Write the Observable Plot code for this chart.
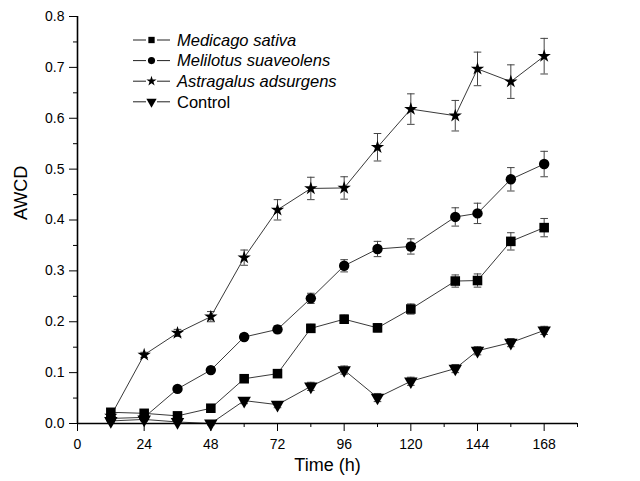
<!DOCTYPE html>
<html><head><meta charset="utf-8">
<script src="https://cdn.jsdelivr.net/npm/d3@7"></script>
<script src="https://cdn.jsdelivr.net/npm/@observablehq/plot@0.6"></script>
<style>body{margin:0;background:#fff}</style>
</head><body><div id="chart"></div>
<script>
const hours = [12,24,36,48,60,72,84,96,108,120,136,144,156,168];
const seriesNames = ["Medicago sativa","Melilotus suaveolens","Astragalus adsurgens","Control"];
const medicago    = [0.022,0.020,0.015,0.030,0.088,0.098,0.187,0.205,0.188,0.225,0.280,0.281,0.358,0.385];
const medicagoErr = [0.003,0.003,0.003,0.004,0.005,0.005,0.008,0.008,0.008,0.010,0.012,0.013,0.017,0.018];
const melilotus    = [0.010,0.012,0.068,0.105,0.170,0.185,0.246,0.310,0.343,0.348,0.406,0.413,0.480,0.510];
const melilotusErr = [0.002,0.002,0.003,0.004,0.006,0.007,0.010,0.012,0.015,0.015,0.018,0.020,0.023,0.025];
const astragalus    = [0.015,0.135,0.178,0.210,0.326,0.420,0.462,0.463,0.543,0.618,0.605,0.697,0.672,0.722];
const astragalusErr = [0.003,0.005,0.007,0.010,0.015,0.020,0.022,0.022,0.027,0.030,0.030,0.033,0.033,0.035];
const control    = [0.005,0.008,0.003,0.000,0.045,0.037,0.073,0.105,0.051,0.083,0.108,0.143,0.159,0.183];
const controlErr = [0.003,0.003,0.003,0.003,0.006,0.006,0.008,0.008,0.008,0.008,0.008,0.008,0.008,0.008];
const xTicks = [0,24,48,72,96,120,144,168];
const xMinor = [12,36,60,84,108,132,156,180];
const yTicks = [0,0.1,0.2,0.3,0.4,0.5,0.6,0.7,0.8];
const yMinor = [0.05,0.15,0.25,0.35,0.45,0.55,0.65,0.75];

const triDown = {draw(ctx, size){
  const a = Math.sqrt(4*size/Math.sqrt(3)), h = a*Math.sqrt(3)/2;
  ctx.moveTo(0, 2*h/3); ctx.lineTo(-a/2, -h/3); ctx.lineTo(a/2, -h/3); ctx.closePath();
}};
const cap = {draw(ctx, size){ const w = Math.sqrt(size/Math.PI); ctx.moveTo(-w,0); ctx.lineTo(w,0); }};
const symbols = {"Medicago sativa": "square", "Melilotus suaveolens": "circle", "Astragalus adsurgens": "star", "Control": triDown};
const radii = {"Medicago sativa": 5.4, "Melilotus suaveolens": 5.2, "Astragalus adsurgens": 4.2, "Control": 5.0};
const legendSize = {"Medicago sativa": 40, "Melilotus suaveolens": 40, "Astragalus adsurgens": 32, "Control": 46};

const vals = [medicago, melilotus, astragalus, control];
const errs = [medicagoErr, melilotusErr, astragalusErr, controlErr];
const data = [];
seriesNames.forEach((s, k) => hours.forEach((h, i) => data.push({s, h, v: vals[k][i], e: errs[k][i]})));

const marks = [
  Plot.ruleX(data, {x: "h", y1: d => d.v - d.e, y2: d => d.v + d.e, stroke: "#444", strokeWidth: 1}),
  Plot.dot(data, {x: "h", y: d => d.v + d.e, symbol: () => cap, r: 3.8, stroke: "#444", strokeWidth: 1}),
  Plot.dot(data, {x: "h", y: d => d.v - d.e, symbol: () => cap, r: 3.8, stroke: "#444", strokeWidth: 1}),
  Plot.line(data, {x: "h", y: "v", z: "s", stroke: "#222", strokeWidth: 0.9})
];
seriesNames.forEach(s => {
  marks.push(Plot.dot(data.filter(d => d.s === s), {x: "h", y: "v", symbol: () => symbols[s], r: radii[s], fill: "black", stroke: "none"}));
});
marks.push(
  Plot.axisX({ticks: xTicks, tickSize: 8, tickPadding: 8, fontSize: 14, label: null, tickFormat: d => d}),
  Plot.axisX({ticks: xMinor, tickSize: 4, text: null, label: null}),
  Plot.axisY({ticks: yTicks, tickSize: 8, tickPadding: 5, fontSize: 14, label: null, tickFormat: d3.format(".1f")}),
  Plot.axisY({ticks: yMinor, tickSize: 4, text: null, label: null}),
  Plot.ruleY([0], {strokeWidth: 1.6}),
  Plot.ruleX([0], {strokeWidth: 1.6}),
  Plot.text(["Time (h)"], {frameAnchor: "bottom", dy: 47, fontSize: 18}),
  Plot.text(["AWCD"], {frameAnchor: "left", dx: -56, rotate: -90, fontSize: 18})
);

const chart = Plot.plot({
  width: 640, height: 481,
  marginLeft: 77, marginRight: 63, marginTop: 16, marginBottom: 58,
  x: {domain: [0, 180]},
  y: {domain: [0, 0.8]},
  style: {fontFamily: "'Liberation Sans', Arial, sans-serif", background: "white", color: "black"},
  marks
});

// legend inside the plot area
const svg = d3.select(chart);
const lg = svg.append("g").attr("font-family", "'Liberation Sans', Arial, sans-serif").attr("font-size", 16.5).attr("text-anchor", "start");
seriesNames.forEach((s, i) => {
  const y = 40 + i * 20.6;
  const g = lg.append("g").attr("transform", `translate(0,${y})`);
  g.append("line").attr("x1", 133).attr("x2", 146).attr("y1", 0).attr("y2", 0).attr("stroke", "#222").attr("stroke-width", 1);
  g.append("line").attr("x1", 157).attr("x2", 170).attr("y1", 0).attr("y2", 0).attr("stroke", "#222").attr("stroke-width", 1);
  const sym = typeof symbols[s] === "string" ? {square: d3.symbolSquare, circle: d3.symbolCircle, star: d3.symbolStar}[symbols[s]] : symbols[s];
  g.append("path").attr("transform", "translate(151.5,0)").attr("d", d3.symbol(sym, legendSize[s])()).attr("fill", "black");
  g.append("text").attr("x", 177).attr("y", 0).attr("dy", "0.35em").attr("font-style", s === "Control" ? "normal" : "italic").text(s);
});

document.getElementById("chart").appendChild(chart);
</script>
</body></html>
